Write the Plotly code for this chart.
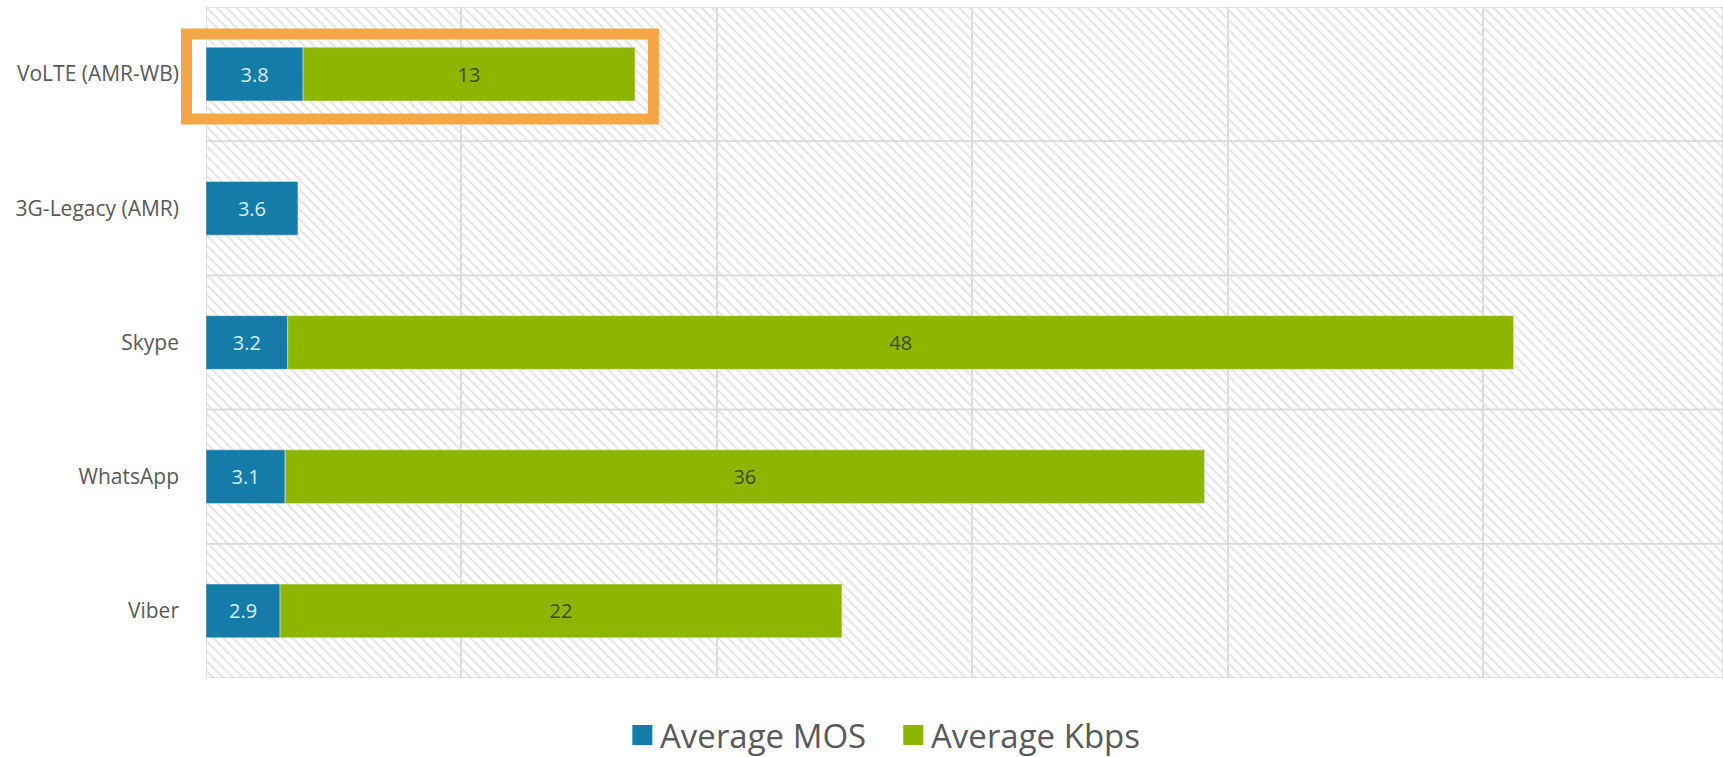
import plotly.graph_objects as go

categories = ["VoLTE (AMR-WB)", "3G-Legacy (AMR)", "Skype", "WhatsApp", "Viber"]
avg_mos = [3.8, 3.6, 3.2, 3.1, 2.9]
avg_kbps = [13, None, 48, 36, 22]
x_max = 59.4
x_grid = [0, 10, 20, 30, 40, 50]

MOS_COLOR = "#157BA8"
KBPS_COLOR = "#8DB600"
FONT = "Open Sans"

fig = go.Figure()

# hatched background bands (one per category)
fig.add_trace(go.Bar(
    y=categories, x=[x_max] * len(categories), orientation="h", width=1,
    marker=dict(color="rgba(0,0,0,0)",
                line=dict(color="#d9d9d9", width=1.5),
                pattern=dict(shape="\\", fgcolor="#e4e4e4", size=7,
                             solidity=0.3, fillmode="replace")),
    hoverinfo="skip", showlegend=False,
))

fig.add_trace(go.Bar(
    y=categories, x=avg_mos, orientation="h", width=0.4, name="Average MOS",
    marker=dict(color=MOS_COLOR),
    text=[f"{v:.1f}" for v in avg_mos], textposition="inside",
    insidetextanchor="middle", textangle=0,
    textfont=dict(family=FONT, size=20, color="#dbeff7"),
    showlegend=False,
))

fig.add_trace(go.Bar(
    y=categories, x=avg_kbps, base=avg_mos, orientation="h", width=0.4,
    name="Average Kbps",
    marker=dict(color=KBPS_COLOR),
    text=[("" if v is None else str(v)) for v in avg_kbps], textposition="inside",
    insidetextanchor="middle", textangle=0,
    textfont=dict(family=FONT, size=20, color="#3d4a1a"),
    showlegend=False,
))

L, T, B = 205.5, 7, 79
W, H = 1723, 757
pw, ph = W - L, H - T - B

def px(xp):
    return (xp - L) / pw

def py(yp):
    return (H - B - yp) / ph

shapes = [
    # highlight box around the VoLTE bar
    dict(type="rect", xref="paper", yref="paper",
         x0=px(186), x1=px(653), y0=py(119), y1=py(34),
         line=dict(color="#F5A748", width=11), fillcolor="rgba(0,0,0,0)"),
    # legend swatches
    dict(type="rect", xref="paper", yref="paper",
         x0=px(632), x1=px(652), y0=py(745), y1=py(725),
         line=dict(width=0), fillcolor=MOS_COLOR),
    dict(type="rect", xref="paper", yref="paper",
         x0=px(903), x1=px(923), y0=py(745), y1=py(725),
         line=dict(width=0), fillcolor=KBPS_COLOR),
]

annotations = [
    dict(xref="paper", yref="paper", x=px(658), y=py(735), text="Average MOS",
         showarrow=False, xanchor="left", yanchor="middle",
         font=dict(family=FONT, size=33, color="#595959")),
    dict(xref="paper", yref="paper", x=px(929), y=py(735), text="Average Kbps",
         showarrow=False, xanchor="left", yanchor="middle",
         font=dict(family=FONT, size=33, color="#595959")),
]

fig.update_layout(
    width=W, height=H,
    margin=dict(l=L, r=0, t=T, b=B, pad=0),
    barmode="overlay",
    plot_bgcolor="white", paper_bgcolor="white",
    font=dict(family=FONT, color="#595959"),
    shapes=shapes, annotations=annotations,
    showlegend=False,
    xaxis=dict(range=[0, x_max], tickvals=x_grid, showticklabels=False,
               showgrid=True, gridcolor="#d9d9d9", gridwidth=1.5,
               zeroline=False, showline=False, fixedrange=True),
    yaxis=dict(categoryorder="array", categoryarray=categories,
               autorange="reversed", showgrid=False, zeroline=False,
               ticks="", ticklabelstandoff=26,
               tickfont=dict(family=FONT, size=21, color="#595959")),
)

fig.write_html("out.html")
